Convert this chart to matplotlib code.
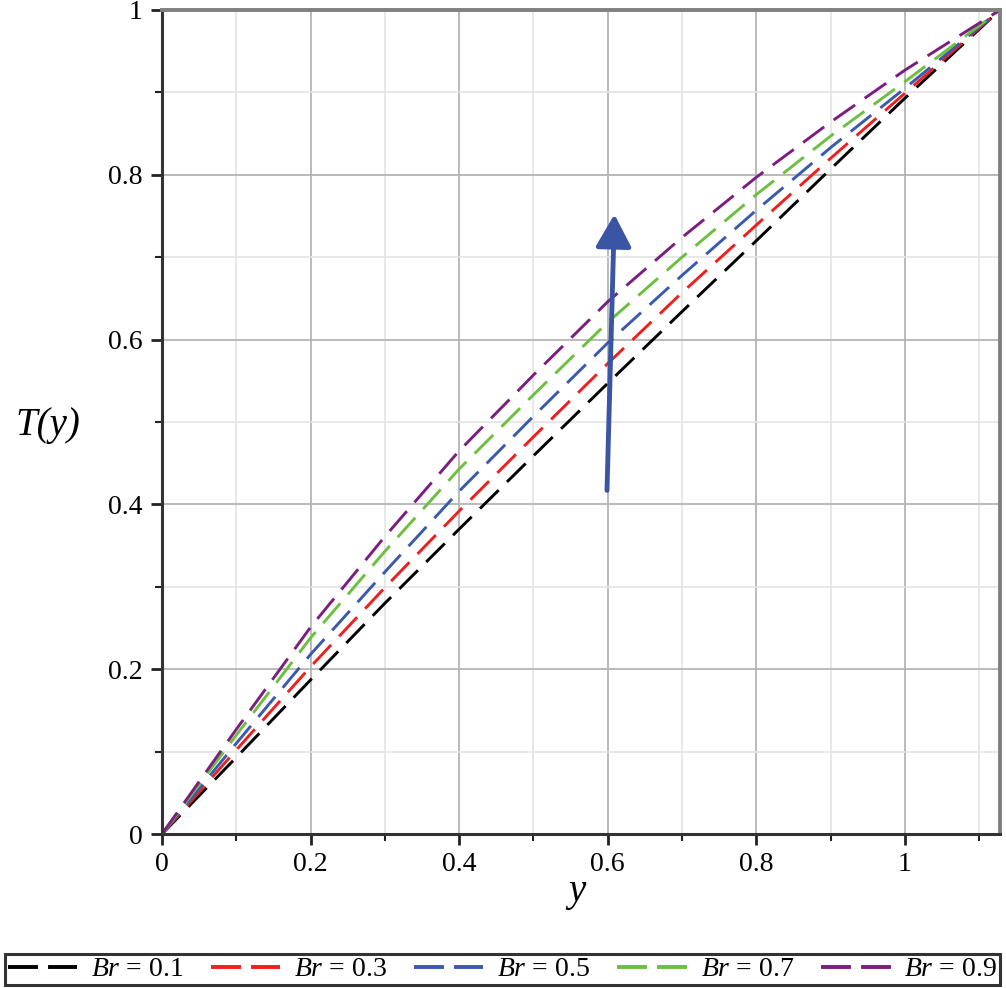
import numpy as np
import matplotlib
matplotlib.use("Agg")
import matplotlib.pyplot as plt
from matplotlib.ticker import MultipleLocator, FuncFormatter

plt.rcParams['font.family'] = ['Liberation Serif', 'DejaVu Serif']
plt.rcParams['mathtext.fontset'] = 'custom'
plt.rcParams['mathtext.rm'] = 'Liberation Serif'
plt.rcParams['mathtext.it'] = 'Liberation Serif:italic'

# values
y_pts = [0.0, 0.1, 0.2, 0.3, 0.4, 0.5, 0.6, 0.7, 0.8, 0.9, 1.0, 1.128]
T_br01 = [0.0, 0.093, 0.187, 0.280, 0.370, 0.459, 0.547, 0.634, 0.720, 0.807, 0.893, 1.0]
T_br03 = [0.0, 0.102, 0.203, 0.299, 0.392, 0.482, 0.571, 0.657, 0.739, 0.820, 0.899, 1.0]
T_br05 = [0.0, 0.110, 0.218, 0.318, 0.416, 0.507, 0.596, 0.678, 0.757, 0.833, 0.905, 1.0]
T_br07 = [0.0, 0.120, 0.238, 0.343, 0.443, 0.533, 0.621, 0.700, 0.776, 0.847, 0.913, 1.0]
T_br09 = [0.0, 0.127, 0.251, 0.361, 0.465, 0.557, 0.646, 0.724, 0.797, 0.864, 0.927, 1.0]
labels = ['0.1', '0.3', '0.5', '0.7', '0.9']
colors = ['black', '#f01e1e', '#3a5aae', '#6dbf3f', '#7a1e80']

fig = plt.figure(figsize=(10.06, 9.88), dpi=100)
ax = fig.add_axes([162/1006, 154/988, 838/1006, 824/988])

for T, lab, c in zip([T_br01, T_br03, T_br05, T_br07, T_br09], labels, colors):
    ax.plot(y_pts, T, c=c, lw=2.1, dashes=(9, 4), label=r'$Br$ = ' + lab)

# arrow showing increasing Br
ax.annotate('', xy=(0.609, 0.752), xytext=(0.599, 0.417),
            arrowprops=dict(arrowstyle='-|>,head_length=1.0,head_width=0.55',
                            mutation_scale=20, color='#3a55a4', lw=3.5,
                            shrinkA=0, shrinkB=0))

ax.set_xlim(0, 1.128)
ax.set_ylim(0, 1)
ax.xaxis.set_major_locator(MultipleLocator(0.2))
ax.xaxis.set_minor_locator(MultipleLocator(0.1))
ax.yaxis.set_major_locator(MultipleLocator(0.2))
ax.yaxis.set_minor_locator(MultipleLocator(0.1))
fmt = FuncFormatter(lambda v, p: f'{v:g}')
ax.xaxis.set_major_formatter(fmt)
ax.yaxis.set_major_formatter(fmt)

ax.grid(which='major', color='#b4b4b4', lw=1.3)
ax.grid(which='minor', color='#e4e4e4', lw=1.2)
ax.set_axisbelow(True)

ax.tick_params(which='major', direction='out', length=8, width=2, color='#222', labelsize=20, pad=6)
ax.tick_params(which='minor', direction='out', length=5, width=1.5, color='#222')
ax.tick_params(axis='x', pad=5)

for s in ['left', 'bottom']:
    ax.spines[s].set_color('#333333')
    ax.spines[s].set_linewidth(2.2)
for s in ['top', 'right']:
    ax.spines[s].set_color('#808080')
    ax.spines[s].set_linewidth(2.8)

ax.set_xlabel('y', fontsize=28, style='italic')
ax.xaxis.set_label_coords(0.495, -0.047)
ax.set_ylabel('T(y)', fontsize=28, style='italic', rotation=0, va='center', ha='center')
ax.yaxis.set_label_coords(-0.136, 0.496)

leg = fig.legend(loc='lower left', bbox_to_anchor=(5/1006, 3/988, 995/1006, 30/988),
                 mode='expand', ncol=5, fontsize=20, handlelength=2.5,
                 borderpad=0.1, handletextpad=0.5, fancybox=False, framealpha=1,
                 borderaxespad=0)
leg.get_frame().set_edgecolor('#333333')
leg.get_frame().set_linewidth(2.2)
for h in leg.get_lines():
    h.set_linewidth(2.8)
    h.set_dashes((7.7, 2.6))

fig.savefig('out.png', dpi=100)
